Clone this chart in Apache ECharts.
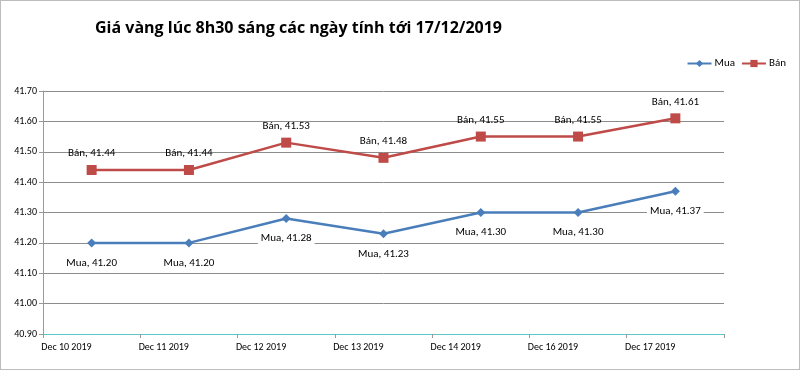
<!DOCTYPE html>
<html><head><meta charset="utf-8">
<script src="https://cdn.jsdelivr.net/npm/echarts@6/dist/echarts.min.js"></script>
<style>html,body{margin:0;padding:0;background:#fff}#c{width:800px;height:370px;box-sizing:border-box;border:1px solid #bdbdbd}</style>
</head><body><div id="c"></div>
<script>
const categories = ['Dec 10 2019','Dec 11 2019','Dec 12 2019','Dec 13 2019','Dec 14 2019','Dec 16 2019','Dec 17 2019'];
const muaValues = [41.20, 41.20, 41.28, 41.23, 41.30, 41.30, 41.37];
const banValues = [41.44, 41.44, 41.53, 41.48, 41.55, 41.55, 41.61];
const seriesNames = ['Mua', 'Bán'];
const titleText = 'Giá vàng lúc 8h30 sáng các ngày tính tới 17/12/2019';

const chart = echarts.init(document.getElementById('c'));
const font = 'Calibri, Carlito, "Open Sans", sans-serif';
chart.setOption({
  animation: false,
  title: { text: titleText, left: 89, top: 14,
    textStyle: { fontFamily: '"Open Sans", sans-serif', fontWeight: 'bold', fontSize: 16, color: '#000' } },
  legend: { right: 8, top: 52, itemGap: 6, itemWidth: 24, itemHeight: 9,
    textStyle: { fontFamily: font, fontSize: 11, color: '#000', padding: [0, 0, 0, -2] },
    data: seriesNames },
  grid: { left: 42, right: 75, top: 90, bottom: 35 },
  xAxis: { type: 'category', data: categories, boundaryGap: true,
    axisLine: { lineStyle: { color: '#5cc8c8', width: 1 } },
    axisTick: { show: true, alignWithLabel: false, length: 4, lineStyle: { color: '#999' } },
    axisLabel: { align: 'right', margin: 8, fontFamily: font, fontSize: 10, color: '#000' } },
  yAxis: { type: 'value', min: 40.9, max: 41.7, interval: 0.1,
    axisLine: { show: true, lineStyle: { color: '#999' } },
    axisTick: { show: true, length: 4, lineStyle: { color: '#999' } },
    splitLine: { lineStyle: { color: '#8c8c8c' } },
    axisLabel: { formatter: v => v.toFixed(2), fontFamily: font, fontSize: 10, color: '#000', margin: 6 } },
  series: [
    { name: seriesNames[0], type: 'line', data: muaValues, symbol: 'diamond', symbolSize: 9,
      itemStyle: { color: '#4a7ebb' }, lineStyle: { color: '#4a7ebb', width: 2.5 },
      label: { show: true, position: 'bottom', distance: 8, formatter: p => seriesNames[0] + ', ' + p.value.toFixed(2),
        fontFamily: font, fontSize: 11, color: '#000', backgroundColor: '#fff', padding: [2, 3] } },
    { name: seriesNames[1], type: 'line', data: banValues, symbol: 'rect', symbolSize: 10,
      itemStyle: { color: '#be4b48' }, lineStyle: { color: '#be4b48', width: 2.5 },
      label: { show: true, position: 'top', distance: 6, formatter: p => seriesNames[1] + ', ' + p.value.toFixed(2),
        fontFamily: font, fontSize: 11, color: '#000' } }
  ]
});
</script></body></html>
